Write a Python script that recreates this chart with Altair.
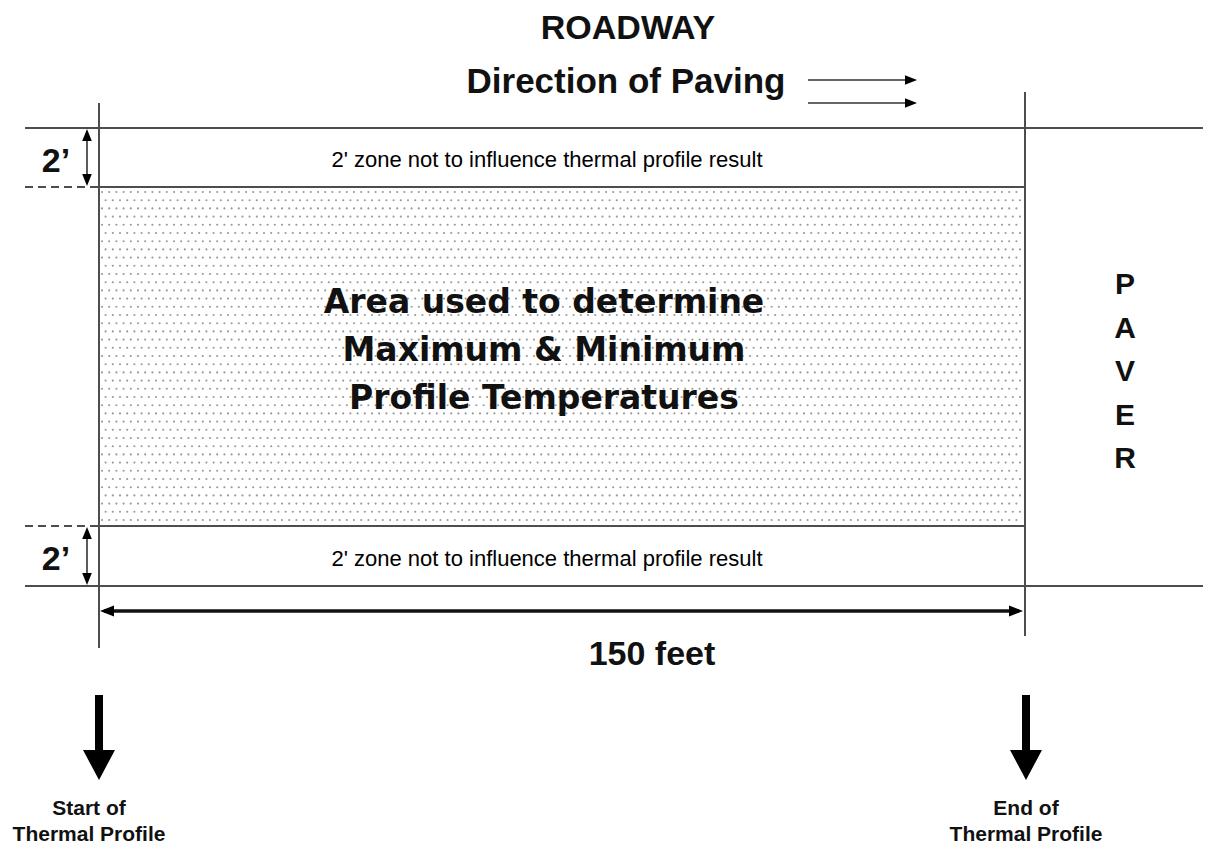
import altair as alt
import pandas as pd
import numpy as np

# ---------------- geometry of the diagram (page pixel coordinates, y downward) -------------
# thin solid gray lines
solid_x1 = [25, 99, 99, 25, 99, 1025]
solid_x2 = [1203, 1025, 1025, 1203, 99, 1025]
solid_y1 = [128, 187, 526, 586, 103, 92]
solid_y2 = [128, 187, 526, 586, 648, 636]

# dashed extension lines
dash_x1 = [25, 25]
dash_x2 = [99, 99]
dash_y = [187, 526]

# thin arrow shafts (direction of paving, 2' dimensions)
shaft_x1 = [808, 808, 87, 87]
shaft_x2 = [907, 907, 87, 87]
shaft_y1 = [80, 103, 136, 533]
shaft_y2 = [80, 103, 180, 579]

# thick 150 ft dimension line
dim_x1 = [104]
dim_x2 = [1019]
dim_y = [611]

# big down-arrow stems
stem_x = [99, 1026]
stem_y1 = [695, 695]
stem_y2 = [752, 752]

# arrow heads: x, y (centre), direction, side length
head_x = [911, 911, 87, 87, 87, 87, 107, 1016, 99, 1026]
head_y = [80, 103, 135, 180, 533, 579, 611, 611, 765, 765]
head_dir = ["right", "right", "up", "down", "up", "down", "left", "right", "bigdown", "bigdown"]
head_side = [12, 12, 12, 12, 12, 12, 14, 14, 32, 32]

# stippled area bounds
area_x = [99, 1025]
area_y = [188, 526]

# bold texts
bold_labels = ["ROADWAY", "Direction of Paving", "150 feet", "2\u2019", "2\u2019",
               "P", "A", "V", "E", "R",
               "Start of", "Thermal Profile", "End of", "Thermal Profile"]
bold_x = [628, 626, 652, 56, 56,
          1125, 1125, 1125, 1125, 1125,
          89, 89, 1026, 1026]
bold_y = [39, 93, 665, 172, 570,
          294, 338, 381, 425, 468,
          815, 841, 815, 841]
bold_size = [34, 35, 34, 34, 34,
             30, 30, 30, 30, 30,
             21, 21, 21, 21]

# zone notes
zone_labels = ["2' zone not to influence thermal profile result",
               "2' zone not to influence thermal profile result"]
zone_x = [547, 547]
zone_y = [167, 566]

# central caption
center_labels = ["Area used to determine", "Maximum & Minimum", "Profile Temperatures"]
center_x = [544, 544, 544]
center_y = [313, 361, 409]

# ---------------- scales ---------------------------------------------------------------
xs = alt.Scale(domain=[8, 1203], nice=False, zero=False)
ys = alt.Scale(domain=[8, 849], nice=False, zero=False, reverse=True)

def X(f="x"):
    return alt.X(f"{f}:Q", scale=xs, axis=None)

def Y(f="y"):
    return alt.Y(f"{f}:Q", scale=ys, axis=None)

# stipple texture for the measurement area
gx, gy = [], []
row = 0
yy = area_y[0] + 4
while yy < area_y[1] - 2:
    off = 0 if row % 2 == 0 else 3.6
    xx = area_x[0] + 3 + off
    while xx < area_x[1] - 2:
        gx.append(xx)
        gy.append(yy)
        xx += 7.2
    yy += 8.2
    row += 1
dots = alt.Chart(pd.DataFrame({"x": gx, "y": gy})).mark_circle(
    size=4.5, color="#999999", opacity=1
).encode(x=X(), y=Y())

solid = alt.Chart(pd.DataFrame({"x": solid_x1, "x2": solid_x2, "y": solid_y1, "y2": solid_y2})).mark_rule(
    color="#4d4d4d", strokeWidth=2
).encode(x=X(), x2="x2", y=Y(), y2="y2")

dashed = alt.Chart(pd.DataFrame({"x": dash_x1, "x2": dash_x2, "y": dash_y})).mark_rule(
    color="#4d4d4d", strokeWidth=2, strokeDash=[8, 5]
).encode(x=X(), x2="x2", y=Y())

shafts = alt.Chart(pd.DataFrame({"x": shaft_x1, "x2": shaft_x2, "y": shaft_y1, "y2": shaft_y2})).mark_rule(
    color="#333333", strokeWidth=1.6
).encode(x=X(), x2="x2", y=Y(), y2="y2")

dimline = alt.Chart(pd.DataFrame({"x": dim_x1, "x2": dim_x2, "y": dim_y})).mark_rule(
    color="#111111", strokeWidth=3.5
).encode(x=X(), x2="x2", y=Y())

stems = alt.Chart(pd.DataFrame({"x": stem_x, "y": stem_y1, "y2": stem_y2})).mark_rule(
    color="#000000", strokeWidth=8
).encode(x=X(), y=Y(), y2="y2")

shape_dom = ["right", "left", "up", "down", "bigdown"]
shape_rng = ["M-1,-0.8L1,0L-1,0.8Z", "M1,-0.8L-1,0L1,0.8Z", "M-0.8,1L0,-1L0.8,1Z",
             "M-0.8,-1L0,1L0.8,-1Z", "M-1,-0.94L1,-0.94L0,0.94Z"]
heads = alt.Chart(pd.DataFrame({"x": head_x, "y": head_y, "d": head_dir,
                                "s": [v * v for v in head_side]})).mark_point(
    filled=True, opacity=1, color="#000000", strokeWidth=0
).encode(
    x=X(), y=Y(),
    shape=alt.Shape("d:N", scale=alt.Scale(domain=shape_dom, range=shape_rng), legend=None),
    size=alt.Size("s:Q", scale=None, legend=None),
)

bold_txt = alt.Chart(pd.DataFrame({"x": bold_x, "y": bold_y, "t": bold_labels, "fs": bold_size})).mark_text(
    font="Liberation Sans, Arial, sans-serif", fontWeight="bold", color="#111111",
    align="center", baseline="alphabetic"
).encode(x=X(), y=Y(), text="t:N", size=alt.Size("fs:Q", scale=None, legend=None))

zone_txt = alt.Chart(pd.DataFrame({"x": zone_x, "y": zone_y, "t": zone_labels})).mark_text(
    font="Liberation Sans, Arial, sans-serif", fontSize=22, color="#000000",
    align="center", baseline="alphabetic"
).encode(x=X(), y=Y(), text="t:N")

center_txt = alt.Chart(pd.DataFrame({"x": center_x, "y": center_y, "t": center_labels})).mark_text(
    font="DejaVu Sans", fontWeight="bold", fontSize=33, color="#111111",
    align="center", baseline="alphabetic"
).encode(x=X(), y=Y(), text="t:N")

chart = alt.layer(
    dots, solid, dashed, shafts, dimline, stems, heads, bold_txt, zone_txt, center_txt
).properties(
    width=1195, height=841,
    autosize=alt.AutoSizeParams(type="none"),
    padding=0,
    background="white",
).configure_view(stroke=None)

chart.save("out.html", embed_options={"renderer": "svg", "actions": False})
